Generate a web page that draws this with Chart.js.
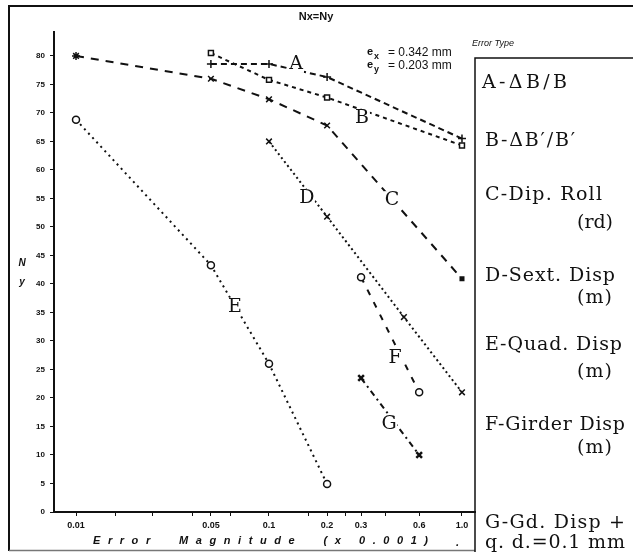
<!DOCTYPE html>
<html>
<head>
<meta charset="utf-8">
<script src="https://cdn.jsdelivr.net/npm/chart.js@4/dist/chart.umd.min.js"></script>
<style>
  html, body { margin: 0; padding: 0; background: #fff; }
</style>
</head>
<body>
<canvas id="errChart" width="633" height="552"></canvas>
<script>
// N_y against error magnitude (x 0.001), one pair per error type
const aMag = [0.05, 0.1, 0.2, 1.0];
const aNy  = [78.6, 78.6, 76.3, 65.5];
const bMag = [0.05, 0.1, 0.2, 1.0];
const bNy  = [80.5, 75.8, 72.7, 64.3];
const cMag = [0.01, 0.05, 0.1, 0.2, 1.0];
const cNy  = [80, 76, 72.4, 67.8, 40.9];
const dMag = [0.1, 0.2, 0.5, 1.0];
const dNy  = [65, 51.8, 34.2, 21];
const eMag = [0.01, 0.05, 0.1, 0.2];
const eNy  = [68.8, 43.3, 26, 4.9];
const fMag = [0.3, 0.6];
const fNy  = [41.2, 21];
const gMag = [0.3, 0.6];
const gNy  = [23.5, 10];

// axis ticks
const xTickValues = [0.01, 0.05, 0.1, 0.2, 0.3, 0.6, 1.0];
const xTickLabels = ['0.01', '0.05', '0.1', '0.2', '0.3', '0.6', '1.0'];
const xMinorTicks = [0.016, 0.025, 0.04, 0.063, 0.16, 0.25, 0.4];
const yTicks = [0, 5, 10, 15, 20, 25, 30, 35, 40, 45, 50, 55, 60, 65, 70, 75, 80];

// curve letters, placed in data coordinates
const curveNames = ['A', 'B', 'C', 'D', 'E', 'F', 'G'];
const curveNameMag = [0.138, 0.303, 0.434, 0.157, 0.0667, 0.45, 0.419];
const curveNameNy  = [78.6, 69.1, 54.7, 55.1, 36, 27, 15.4];

const legendText = ['A-\u0394B/B', 'B-\u0394B\u2032/B\u2032', 'C-Dip. Roll', '(rd)',
  'D-Sext. Disp', '(m)', 'E-Quad. Disp', '(m)', 'F-Girder Disp', '(m)',
  'G-Gd. Disp +', 'q. d.=0.1 mm'];
// x, y, width of each legend line
const legendPos = [[482, 83, 85], [485, 141, 90], [485, 195, 117], [577, 223, 36],
  [485, 276, 130], [577, 298, 35], [485, 345, 137], [577, 372, 35],
  [485, 425, 140], [577, 448, 35], [485, 523, 140], [485, 543, 140]];

const ink = '#111';

function pts(xs, ys) {
  return xs.map((x, i) => ({ x: x, y: ys[i] }));
}

function spacedText(ctx, text, x, y, width) {
  ctx.letterSpacing = '0px';
  const w = ctx.measureText(text).width;
  const n = [...text].length;
  const ls = n > 1 ? (width - w) / (n - 1) : 0;
  ctx.letterSpacing = ls + 'px';
  ctx.fillText(text, x, y);
  ctx.letterSpacing = '0px';
}

const extras = {
  id: 'extras',
  afterDraw(chart) {
    const ctx = chart.ctx;
    const xs = chart.scales.x, ys = chart.scales.y;
    ctx.save();
    ctx.strokeStyle = ink;
    ctx.fillStyle = ink;

    // frame
    ctx.lineWidth = 2;
    ctx.beginPath();
    ctx.moveTo(9, 551); ctx.lineTo(9, 6); ctx.lineTo(633, 6);
    ctx.stroke();
    ctx.strokeStyle = '#777';
    ctx.lineWidth = 1.5;
    ctx.beginPath();
    ctx.moveTo(9, 550.5); ctx.lineTo(475, 550.5);
    ctx.stroke();

    // legend box
    ctx.strokeStyle = ink;
    ctx.lineWidth = 1.5;
    ctx.beginPath();
    ctx.moveTo(475, 552); ctx.lineTo(475, 58); ctx.lineTo(633, 58);
    ctx.stroke();

    ctx.textBaseline = 'middle';
    ctx.textAlign = 'left';
    ctx.font = '19px "DejaVu Serif"';
    legendText.forEach((t, i) => {
      const p = legendPos[i];
      spacedText(ctx, t, p[0], p[1], p[2]);
    });

    // curve letters, with the line broken behind them
    ctx.textAlign = 'center';
    ctx.font = '19px "DejaVu Serif"';
    curveNames.forEach((t, i) => {
      const px = xs.getPixelForValue(curveNameMag[i]);
      const py = ys.getPixelForValue(curveNameNy[i]);
      ctx.fillStyle = '#fff';
      ctx.fillRect(px - 8, py - 9, 16, 18);
      ctx.fillStyle = ink;
      ctx.fillText(t, px, py);
    });

    // headings
    ctx.font = 'bold 11px "Liberation Sans"';
    ctx.fillText('Nx=Ny', 316, 17);
    ctx.font = 'italic 9px "Liberation Sans"';
    ctx.fillText('Error Type', 493, 43);

    // emittances
    ctx.textAlign = 'left';
    ctx.font = 'bold 11px "Liberation Sans"';
    ctx.fillText('e', 367, 52);
    ctx.fillText('e', 367, 65);
    ctx.font = 'bold 9px "Liberation Sans"';
    ctx.fillText('x', 374, 57);
    ctx.fillText('y', 374, 70);
    ctx.font = '12px "Liberation Sans"';
    ctx.fillText('= 0.342 mm', 388, 53);
    ctx.fillText('= 0.203 mm', 388, 66);

    // axis titles
    ctx.font = 'bold italic 10px "Liberation Sans"';
    ctx.textAlign = 'center';
    ctx.fillText('N', 22, 263);
    ctx.fillText('y', 22, 282);
    ctx.textAlign = 'left';
    ctx.font = 'bold italic 11px "Liberation Sans"';
    spacedText(ctx, 'Error  Magnitude  (x 0.001)', 93, 541, 335);
    ctx.fillText('.', 456, 543);
    ctx.restore();
  }
};

const lineBase = {
  borderColor: ink,
  borderWidth: 2,
  fill: false,
  tension: 0,
  pointBorderColor: ink,
  pointBackgroundColor: '#fff',
  pointBorderWidth: 1.5
};

new Chart(document.getElementById('errChart'), {
  type: 'line',
  data: {
    datasets: [
      { ...lineBase, label: 'A', data: pts(aMag, aNy), borderDash: [6, 4], pointStyle: 'cross', pointRadius: 4 },
      { ...lineBase, label: 'B', data: pts(bMag, bNy), borderDash: [4, 4], pointStyle: 'rect', pointRadius: 3.5 },
      { ...lineBase, label: 'C', data: pts(cMag, cNy), borderDash: [8, 7],
        pointStyle: ['star', 'crossRot', 'crossRot', 'crossRot', 'rect'], pointRadius: [4, 4, 4, 4, 2.5],
        pointBackgroundColor: ink },
      { ...lineBase, label: 'D', data: pts(dMag, dNy), borderDash: [2, 3], pointStyle: 'crossRot', pointRadius: 4 },
      { ...lineBase, label: 'E', data: pts(eMag, eNy), borderDash: [2, 4], pointStyle: 'circle', pointRadius: 3.5 },
      { ...lineBase, label: 'F', data: pts(fMag, fNy), borderDash: [6, 8], pointStyle: 'circle', pointRadius: 3.5 },
      { ...lineBase, label: 'G', data: pts(gMag, gNy), borderDash: [6, 4, 2, 4], pointStyle: 'crossRot',
        pointRadius: 4, pointBorderWidth: 2.5 }
    ]
  },
  options: {
    responsive: false,
    animation: false,
    layout: { padding: { left: 30, top: 32, right: 158, bottom: 20 } },
    plugins: {
      legend: { display: false },
      tooltip: { enabled: false },
      colors: { enabled: false }
    },
    scales: {
      x: {
        type: 'logarithmic',
        min: 0.00769,
        max: 1.168,
        afterFit: (s) => { s.height = 20; },
        afterBuildTicks: (s) => {
          s.ticks = xTickValues.concat(xMinorTicks).sort((p, q) => p - q).map(v => ({ value: v }));
        },
        ticks: {
          autoSkip: false,
          maxRotation: 0,
          padding: 4,
          color: ink,
          font: { family: 'Liberation Sans', size: 9, weight: 'bold' },
          callback: (v) => {
            const i = xTickValues.indexOf(v);
            return i >= 0 ? xTickLabels[i] : '';
          }
        },
        grid: { drawOnChartArea: false, drawTicks: true, tickLength: 4, color: ink },
        border: { display: true, color: ink, width: 2 }
      },
      y: {
        min: 0,
        max: 84.2,
        afterFit: (s) => { s.width = 24; },
        afterBuildTicks: (s) => { s.ticks = yTicks.map(v => ({ value: v })); },
        ticks: {
          padding: 5,
          color: ink,
          font: { family: 'Liberation Sans', size: 8, weight: 'bold' }
        },
        grid: { drawOnChartArea: false, drawTicks: true, tickLength: 4, color: ink },
        border: { display: true, color: ink, width: 2 }
      }
    }
  },
  plugins: [extras]
});
</script>
</body>
</html>
